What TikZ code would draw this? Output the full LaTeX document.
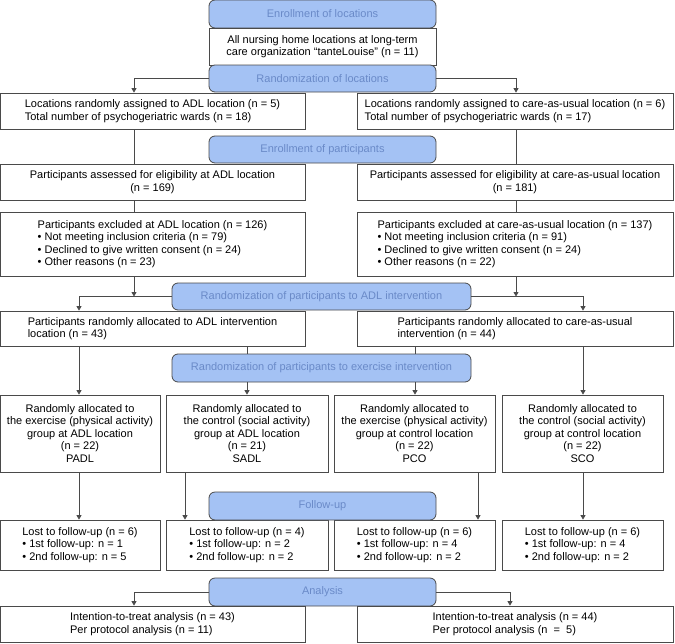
\documentclass[tikz,border=0pt]{standalone}
\usepackage{fontspec}
\setmainfont{Liberation Sans}
\usetikzlibrary{arrows.meta}
\definecolor{hdrfill}{HTML}{A4C2F4}
\definecolor{hdrtext}{HTML}{6A8AC8}
\definecolor{edgegray}{HTML}{4A4A4A}
\tikzset{
  hdr/.style={draw=edgegray, fill=hdrfill, text=hdrtext, rounded corners=6pt,
    minimum height=27pt, inner sep=0pt, font=\fontsize{11}{12.5}\selectfont},
  box/.style={draw=edgegray, fill=white, inner sep=0pt, align=center,
    font=\fontsize{11}{12.5}\selectfont},
  lbox/.style={box, align=left},
  link/.style={draw=edgegray, line width=0.8pt},
  arr/.style={link, -{Triangle[length=4.5pt,width=5pt]}}
}
\begin{document}
\begin{tikzpicture}[x=1pt,y=-1pt,line width=0.8pt]
\useasboundingbox (0,0) rectangle (675,643);
% columns of the connectors
\coordinate (colA) at (134,0);
\coordinate (colC) at (516,0);
\coordinate (colPA) at (79,0);
\coordinate (colSA) at (247,0);
\coordinate (colSAb) at (185,0);
\coordinate (colPC) at (415,0);
\coordinate (colPCb) at (478,0);
\coordinate (colSC) at (583,0);
\coordinate (colAnC) at (510,0);

% locations
\node[hdr, minimum width=227pt, minimum height=28pt] (enrl) at (322.5,14) {Enrollment of locations};
\node[box, minimum width=227pt, minimum height=37pt] (all) at (322.5,46.5) {All nursing home locations at long-term\\care organization “tanteLouise” (n = 11)};
\node[hdr, minimum width=227pt] (rndl) at (322.5,78.5) {Randomization of locations};
\node[lbox, minimum width=305pt, minimum height=36pt] (locA) at (152.5,111) {Locations randomly assigned to ADL location (n = 5)\\Total number of psychogeriatric wards (n = 18)};
\node[lbox, minimum width=316pt, minimum height=36pt] (locC) at (515,111) {Locations randomly assigned to care-as-usual location (n = 6)\\Total number of psychogeriatric wards (n = 17)};

% participants
\node[hdr, minimum width=227pt] (enrp) at (322.5,149.5) {Enrollment of participants};
\node[box, minimum width=305pt, minimum height=36pt] (asA) at (152.5,182) {Participants assessed for eligibility at ADL location\\(n = 169)};
\node[box, minimum width=316pt, minimum height=36pt] (asC) at (515,182) {Participants assessed for eligibility at care-as-usual location\\(n = 181)};
\node[lbox, minimum width=305pt, minimum height=64pt] (exA) at (152.5,244) {Participants excluded at ADL location (n = 126)\\• Not meeting inclusion criteria (n = 79)\\• Declined to give written consent (n = 24)\\• Other reasons (n = 23)};
\node[lbox, minimum width=316pt, minimum height=64pt] (exC) at (515,244) {Participants excluded at care-as-usual location (n = 137)\\• Not meeting inclusion criteria (n = 91)\\• Declined to give written consent (n = 24)\\• Other reasons (n = 22)};

% ADL intervention
\node[hdr, minimum width=299pt] (rndp) at (321.5,296.5) {Randomization of participants to ADL intervention};
\node[lbox, minimum width=305pt, minimum height=35pt] (alA) at (152.5,328.5) {Participants randomly allocated to ADL intervention\\location (n = 43)};
\node[lbox, minimum width=316pt, minimum height=35pt] (alC) at (515,328.5) {Participants randomly allocated to care-as-usual\\intervention (n = 44)};

% exercise intervention
\node[hdr, minimum width=299pt, minimum height=28pt] (rnde) at (321.5,368) {Randomization of participants to exercise intervention};
\node[box, minimum width=160pt, minimum height=77pt] (padl) at (80,433.5) {Randomly allocated to\\the exercise (physical activity)\\group at ADL location\\(n = 22)\\PADL};
\node[box, minimum width=162pt, minimum height=77pt] (sadl) at (247,433.5) {Randomly allocated to\\the control (social activity)\\group at ADL location\\(n = 21)\\SADL};
\node[box, minimum width=161pt, minimum height=77pt] (pco) at (414.5,433.5) {Randomly allocated to\\the exercise (physical activity)\\group at control location\\(n = 22)\\PCO};
\node[box, minimum width=161pt, minimum height=77pt] (sco) at (582.5,433.5) {Randomly allocated to\\the control (social activity)\\group at control location\\(n = 22)\\SCO};

% follow-up
\node[lbox, minimum width=160pt, minimum height=50pt] (lpadl) at (80,545) {Lost to follow-up (n = 6)\\• 1st follow-up: n = 1\\• 2nd follow-up: n = 5};
\node[lbox, minimum width=162pt, minimum height=50pt] (lsadl) at (247,545) {Lost to follow-up (n = 4)\\• 1st follow-up: n = 2\\• 2nd follow-up: n = 2};
\node[lbox, minimum width=161pt, minimum height=50pt] (lpco) at (414.5,545) {Lost to follow-up (n = 6)\\• 1st follow-up: n = 4\\• 2nd follow-up: n = 2};
\node[lbox, minimum width=161pt, minimum height=50pt] (lsco) at (582.5,545) {Lost to follow-up (n = 6)\\• 1st follow-up: n = 4\\• 2nd follow-up: n = 2};
\node[hdr, minimum width=227pt, minimum height=28pt] (fup) at (322.5,506) {Follow-up};

% analysis
\node[hdr, minimum width=227pt, minimum height=28pt] (ana) at (322.5,592) {Analysis};
\node[lbox, minimum width=305pt, minimum height=36pt] (anA) at (152.5,624) {Intention-to-treat analysis (n = 43)\\Per protocol analysis (n = 11)};
\node[lbox, minimum width=316pt, minimum height=36pt] (anC) at (515,624) {Intention-to-treat analysis (n = 44)\\Per protocol analysis (n\ \ =\ \ 5)};

\path[arr] (rndl.west) -| (colA |- locA.north);
\path[arr] (rndl.east) -| (colC |- locC.north);
\path[link] (colA |- locA.south) -- (colA |- asA.north);
\path[link] (colC |- locC.south) -- (colC |- asC.north);
\path[link] (colA |- asA.south) -- (colA |- exA.north);
\path[link] (colC |- asC.south) -- (colC |- exC.north);
\path[arr] (colA |- exA.south) -- (colA |- rndp.west);
\path[arr] (colC |- exC.south) -- (colC |- rndp.east);
\path[arr] (rndp.west) -| (colPA |- alA.north);
\path[arr] (rndp.east) -| (colSC |- alC.north);

\path[arr] (colPA |- alA.south) -- (colPA |- padl.north);
\path[link] (colSA |- alA.south) -- (colSA |- rnde.north);
\path[arr] (colSA |- rnde.south) -- (colSA |- sadl.north);
\path[link] (colPC |- alC.south) -- (colPC |- rnde.north);
\path[arr] (colPC |- rnde.south) -- (colPC |- pco.north);
\path[arr] (colSC |- alC.south) -- (colSC |- sco.north);

\path[arr] (colPA |- padl.south) -- (colPA |- lpadl.north);
\path[arr] (colSAb |- sadl.south) -- (colSAb |- lsadl.north);
\path[arr] (colPCb |- pco.south) -- (colPCb |- lpco.north);
\path[arr] (colSC |- sco.south) -- (colSC |- lsco.north);

\path[arr] (ana.west) -| (colA |- anA.north);
\path[arr] (ana.east) -| (colAnC |- anC.north);
\end{tikzpicture}
\end{document}
